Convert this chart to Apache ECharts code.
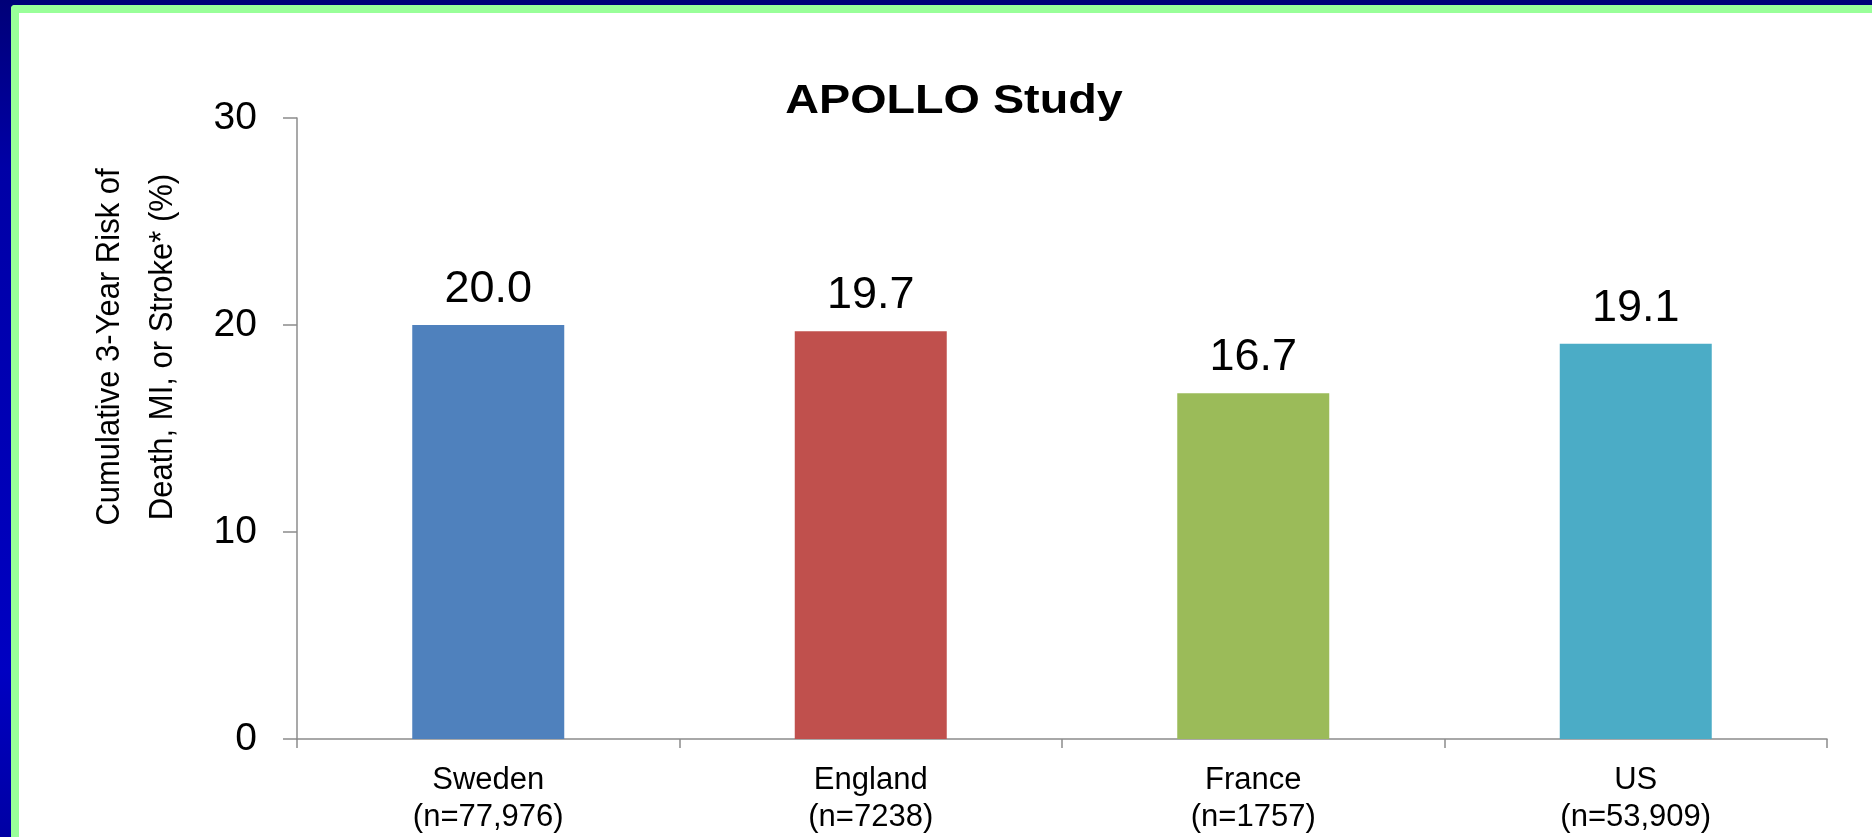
<!DOCTYPE html>
<html>
<head>
<meta charset="utf-8">
<title>APOLLO Study</title>
<script src="https://cdn.jsdelivr.net/npm/echarts@6/dist/echarts.min.js"></script>
<style>
  html, body { margin: 0; padding: 0; }
  body {
    width: 1872px; height: 837px; overflow: hidden; position: relative;
    background: linear-gradient(to bottom, #000078 0%, #0000a6 20%, #0000c2 80%, #0000a4 100%);
  }
  #panel {
    position: absolute; left: 11px; top: 5px; right: 0; bottom: 0;
    background: #ffffff;
    border-left: 8px solid #99ff99;
    border-top: 8px solid #99ff99;
    border-top-left-radius: 4px;
  }
  #chart { position: absolute; left: 0; top: 0; width: 1872px; height: 837px; }
</style>
</head>
<body>
<div id="panel"></div>
<div id="chart"></div>
<script>
// Countries with cohort sizes, and 3-year cumulative risk (%)
const countries = ['Sweden', 'England', 'France', 'US'];
const cohortSizes = ['n=77,976', 'n=7238', 'n=1757', 'n=53,909'];
const riskPercent = [20.0, 19.7, 16.7, 19.1];
const barColors = ['#4f81bd', '#c0504d', '#9bbb59', '#4bacc6'];
const yTicks = { min: 0, max: 30, interval: 10 };

const font = 'Liberation Sans, Arial, sans-serif';
const axisGray = '#8c8c8c';

const chart = echarts.init(document.getElementById('chart'), null, { renderer: 'canvas' });

chart.setOption({
  backgroundColor: 'transparent',
  animation: false,
  textStyle: { fontFamily: font },
  grid: {
    left: 297, right: 45, top: 118, bottom: 98,
    containLabel: false,
    outerBoundsMode: 'none'
  },
  graphic: [
    {
      type: 'text',
      x: 954, y: 102,
      scaleX: 1.14,
      style: {
        text: 'APOLLO Study',
        fontSize: 41,
        fontWeight: 'bold',
        fontFamily: font,
        fill: '#000000',
        textAlign: 'center',
        textVerticalAlign: 'middle'
      }
    },
    {
      type: 'text',
      x: 136, y: 347,
      rotation: Math.PI / 2,
      scaleY: 1.06,
      style: {
        text: 'Cumulative 3-Year Risk of\nDeath, MI, or Stroke* (%)',
        fontSize: 31,
        fontFamily: font,
        lineHeight: 50,
        fill: '#000000',
        textAlign: 'center',
        textVerticalAlign: 'middle'
      }
    }
  ],
  xAxis: {
    type: 'category',
    data: countries.map((c, i) => c + '\n(' + cohortSizes[i] + ')'),
    boundaryGap: true,
    axisLine: { show: true, lineStyle: { color: axisGray, width: 1.5 } },
    axisTick: { show: true, length: 9, alignWithLabel: false, lineStyle: { color: axisGray, width: 1.5 } },
    axisLabel: {
      color: '#000000', fontSize: 31, lineHeight: 37, margin: 23,
      fontFamily: font, interval: 0
    },
    splitLine: { show: false }
  },
  yAxis: {
    type: 'value',
    min: yTicks.min, max: yTicks.max, interval: yTicks.interval,
    axisLine: { show: true, lineStyle: { color: axisGray, width: 1.5 } },
    axisTick: { show: true, length: 14, lineStyle: { color: axisGray, width: 1.5 } },
    axisLabel: { color: '#000000', fontSize: 39, margin: 40, fontFamily: font, padding: [4, 0, 0, 0] },
    splitLine: { show: false }
  },
  series: [{
    type: 'bar',
    data: riskPercent.map((v, i) => ({ value: v, itemStyle: { color: barColors[i] } })),
    barWidth: 152,
    label: {
      show: true,
      position: 'top',
      distance: 13,
      color: '#000000',
      fontSize: 45,
      fontFamily: font,
      formatter: p => p.value.toFixed(1)
    }
  }]
});
</script>
</body>
</html>
